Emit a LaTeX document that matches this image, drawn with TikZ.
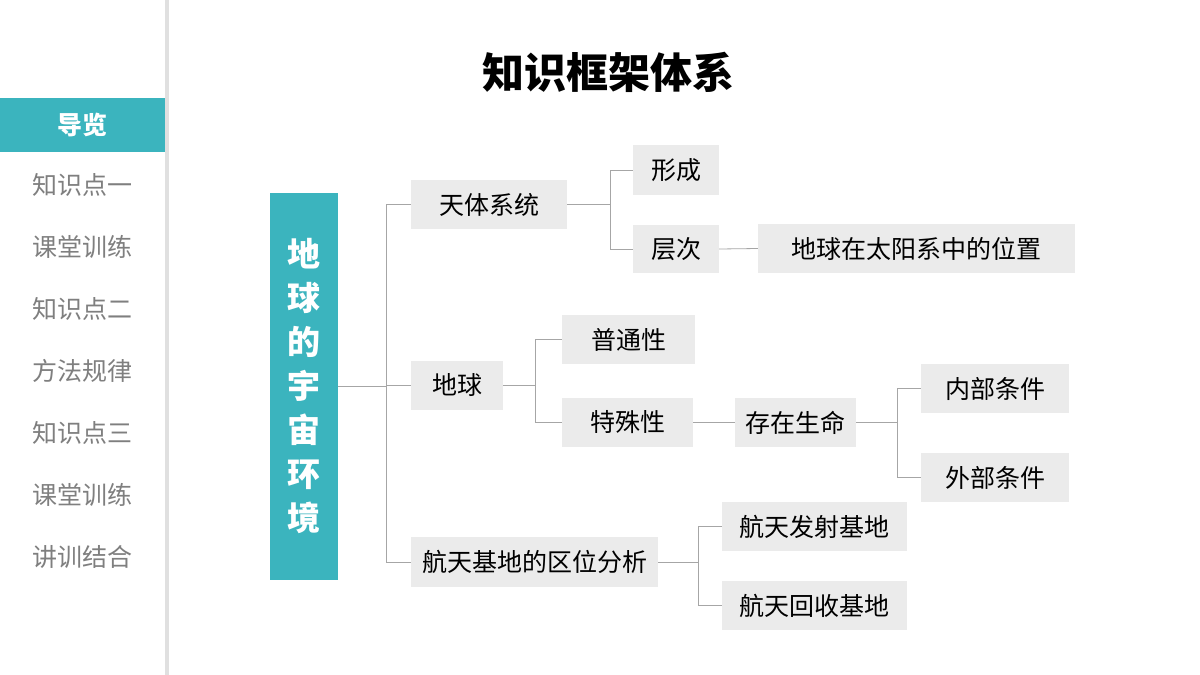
\documentclass[tikz,border=0pt]{standalone}
\usepackage{fontspec}
\setmainfont{Noto Sans CJK SC}
\usetikzlibrary{positioning}
\definecolor{tuerkis}{HTML}{3BB4BE}
\definecolor{kastengrau}{HTML}{EBEBEB}
\definecolor{liniengrau}{HTML}{A6A6A6}
\definecolor{textgrau}{HTML}{7F7F7F}
\tikzset{
  Kasten/.style={fill=kastengrau, inner sep=0pt, font=\fontsize{25}{29}\selectfont, text=black},
  Leitung/.style={draw=liniengrau, line width=0.8pt},
  Menue/.style={text=textgrau, font=\fontsize{25}{29}\selectfont}
}
\begin{document}
\begin{tikzpicture}[x=1pt,y=-1pt]
\useasboundingbox (0,0) rectangle (1200,675);
\fill[white] (0,0) rectangle (1200,675);

%Seitenleiste
\fill[black!12] (165,0) rectangle (169,675);
\fill[white] (0,0) rectangle (165,675);
\fill[tuerkis] (0,98) rectangle (165,152);
\node[text=white, font=\fontsize{25}{29}\selectfont\bfseries] (nav) at (82,125) {导览};
\foreach \t [count=\i] in {知识点一,课堂训练,知识点二,方法规律,知识点三,课堂训练,讲训结合}
  \node[Menue] (m\i) at (82,123+62*\i) {\t};

%Titel
\node[font=\fontsize{42}{48}\selectfont\bfseries] (titel) at (608,72) {知识框架体系};

%Kaesten
\node[fill=tuerkis, minimum width=68pt, minimum height=387pt, text width=40pt, align=center,
  text=white, font=\fontsize{33}{44}\selectfont\bfseries] (haupt) at (304,386.5)
  {地\\球\\的\\宇\\宙\\环\\境};
\node[Kasten, minimum width=156pt, minimum height=49pt] (tianti) at (489,204.5) {天体系统};
\node[Kasten, minimum width=86pt, minimum height=50pt] (xingcheng) at (676,170) {形成};
\node[Kasten, minimum width=86pt, minimum height=48pt] (cengci) at (676,249) {层次};
\node[Kasten, minimum width=317pt, minimum height=49pt] (weizhi) at (916.5,248.5) {地球在太阳系中的位置};
\node[Kasten, minimum width=92pt, minimum height=49pt] (diqiu) at (457,385.5) {地球};
\node[Kasten, minimum width=133pt, minimum height=49pt] (putong) at (628.5,339.5) {普通性};
\node[Kasten, minimum width=131pt, minimum height=49pt] (teshu) at (627.5,422.5) {特殊性};
\node[Kasten, minimum width=121pt, minimum height=49pt] (leben) at (795.5,422.5) {存在生命};
\node[Kasten, minimum width=148pt, minimum height=49pt] (innen) at (995,388.5) {内部条件};
\node[Kasten, minimum width=148pt, minimum height=49pt] (aussen) at (995,477.5) {外部条件};
\node[Kasten, minimum width=247pt, minimum height=50pt] (hangtian) at (534.5,562) {航天基地的区位分析};
\node[Kasten, minimum width=185pt, minimum height=49pt] (fashe) at (814.5,526.5) {航天发射基地};
\node[Kasten, minimum width=185pt, minimum height=49pt] (huishou) at (814.5,605.5) {航天回收基地};

%Leitungen
\coordinate (v1) at (386,0);
\coordinate (v2) at (610,0);
\coordinate (v3) at (535,0);
\coordinate (v4) at (897,0);
\coordinate (v5) at (698,0);
\draw[Leitung] (haupt.east) -- (haupt.east -| v1);
\draw[Leitung] (tianti.west) -| (v1 |- hangtian.west) -- (hangtian.west);
\draw[Leitung] (diqiu.west) -- (diqiu.west -| v1);
\draw[Leitung] (tianti.east) -- (tianti.east -| v2);
\draw[Leitung] (xingcheng.west) -| (v2 |- cengci.west) -- (cengci.west);
\draw[Leitung] (cengci.east) -- (weizhi.west);
\draw[Leitung] (diqiu.east) -- (diqiu.east -| v3);
\draw[Leitung] (putong.west) -| (v3 |- teshu.west) -- (teshu.west);
\draw[Leitung] (teshu.east) -- (leben.west);
\draw[Leitung] (leben.east) -- (leben.east -| v4);
\draw[Leitung] (innen.west) -| (v4 |- aussen.west) -- (aussen.west);
\draw[Leitung] (hangtian.east) -- (hangtian.east -| v5);
\draw[Leitung] (fashe.west) -| (v5 |- huishou.west) -- (huishou.west);
\end{tikzpicture}
\end{document}
